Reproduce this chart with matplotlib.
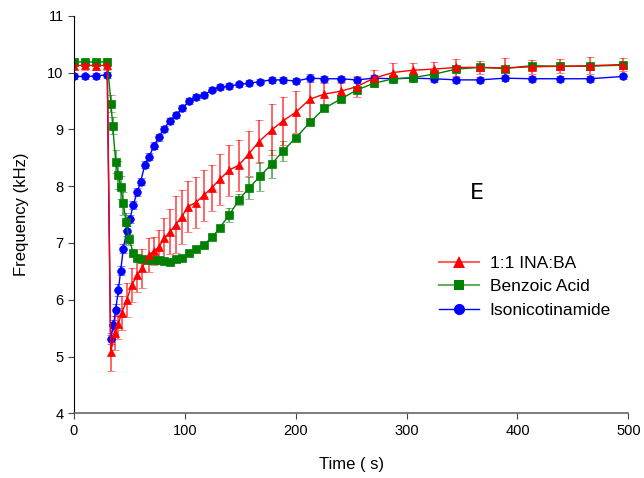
import matplotlib
matplotlib.use("Agg")
import matplotlib.pyplot as plt
from matplotlib.lines import Line2D
from matplotlib.colors import to_rgba
import numpy as np

# 1:1 INA:BA
t_red = [0, 10, 20, 30,
         33.1, 37, 40, 43, 47.5, 52, 57.1, 61, 67.9, 72.4,
         76.6, 81.4, 86.6, 91.7, 97.1, 103, 109.7, 117.2, 124.2, 131.6,
         139.8, 148.8, 157.8, 166.8, 178.3, 188.7, 200, 212.8, 225.7, 240.5,
         254.9, 270.5, 288, 305.4, 324.6, 345, 366, 388.4, 412.7, 438.2,
         465.3, 494.8]
f_red = [10.12, 10.13, 10.12, 10.13,
         5.08, 5.41, 5.58, 5.76, 5.99, 6.26, 6.43, 6.55, 6.79, 6.86,
         6.93, 7.08, 7.20, 7.32, 7.46, 7.64, 7.71, 7.84, 7.97, 8.12,
         8.28, 8.37, 8.57, 8.78, 8.99, 9.15, 9.30, 9.53, 9.62, 9.67,
         9.75, 9.90, 10.00, 10.04, 10.06, 10.09, 10.09, 10.08, 10.10, 10.11,
         10.12, 10.14]
e_red = [0.12, 0.08, 0.08, 0.08,
         0.33, 0.3, 0.28, 0.3, 0.3, 0.3, 0.3, 0.35, 0.3, 0.25,
         0.3, 0.35, 0.4, 0.5, 0.48, 0.45, 0.45, 0.45, 0.4, 0.45,
         0.45, 0.45, 0.4, 0.38, 0.45, 0.42, 0.37, 0.4, 0.2, 0.15,
         0.18, 0.15, 0.17, 0.13, 0.13, 0.15, 0.12, 0.18, 0.12, 0.12,
         0.15, 0.12]

# Benzoic Acid
t_green = [0, 10, 20, 30,
           33.4, 34.9, 37.6, 40, 42.1, 44.5, 46.9, 49.9, 53.5, 56.5,
           61, 66.1, 71.5, 76.6, 81.4, 86.6, 91.7, 97.7, 103.7, 110,
           117.2, 124.7, 131.6, 140, 148.8, 158, 167.7, 178.3, 188.7, 200,
           212.8, 225.7, 240.5, 254.9, 270.5, 288, 305.4, 324.6, 345, 366,
           388.4, 412.7, 438.2, 465.3, 494.8]
f_green = [10.18, 10.19, 10.18, 10.19,
           9.45, 9.06, 8.43, 8.20, 7.98, 7.70, 7.37, 7.06, 6.82, 6.74,
           6.71, 6.70, 6.70, 6.70, 6.69, 6.67, 6.71, 6.74, 6.82, 6.90,
           6.97, 7.10, 7.27, 7.49, 7.76, 7.97, 8.17, 8.39, 8.62, 8.85,
           9.12, 9.37, 9.53, 9.69, 9.81, 9.89, 9.91, 9.97, 10.06, 10.09,
           10.07, 10.12, 10.11, 10.11, 10.13]
e_green = [0.06, 0.05, 0.05, 0.06,
           0.15, 0.15, 0.2, 0.25, 0.2, 0.2, 0.15, 0.1, 0.05, 0.05,
           0.04, 0.04, 0.04, 0.04, 0.04, 0.04, 0.04, 0.04, 0.04, 0.04,
           0.04, 0.04, 0.04, 0.12, 0.1, 0.19, 0.25, 0.25, 0.18, 0.05,
           0.05, 0.05, 0.05, 0.05, 0.04, 0.04, 0.04, 0.04, 0.04, 0.04,
           0.04, 0.04, 0.04, 0.04, 0.04]

# Isonicotinamide
t_blue = [0, 10, 20, 30,
          33, 35.5, 37.6, 40, 42.1, 44.5, 47.5, 50.5, 53.5, 57.1,
          60.1, 64, 67.9, 72.1, 76.6, 81.2, 86.6, 91.7, 97.7, 103.7,
          110, 117.2, 124.7, 131.6, 139.8, 148.8, 157.8, 167.7, 178.3, 188.7,
          200, 212.8, 225.7, 240.5, 254.9, 270.5, 288, 305.4, 324.6, 345,
          366, 388.4, 412.7, 438.2, 465.3, 494.8]
f_blue = [9.93, 9.93, 9.94, 9.96,
          5.30, 5.55, 5.82, 6.17, 6.51, 6.90, 7.21, 7.42, 7.67, 7.90,
          8.08, 8.38, 8.52, 8.71, 8.86, 9.01, 9.15, 9.25, 9.37, 9.50,
          9.57, 9.60, 9.70, 9.74, 9.76, 9.79, 9.81, 9.84, 9.87, 9.87,
          9.85, 9.90, 9.89, 9.89, 9.87, 9.90, 9.89, 9.90, 9.89, 9.87,
          9.87, 9.90, 9.89, 9.89, 9.89, 9.93]
e_blue = [0.05, 0.05, 0.05, 0.05,
          0.08, 0.1, 0.1, 0.1, 0.08, 0.08, 0.08, 0.07, 0.07, 0.07,
          0.06, 0.06, 0.06, 0.06, 0.06, 0.05, 0.05, 0.05, 0.05, 0.05,
          0.05, 0.05, 0.05, 0.05, 0.05, 0.05, 0.05, 0.05, 0.05, 0.05,
          0.05, 0.07, 0.05, 0.05, 0.05, 0.05, 0.05, 0.05, 0.05, 0.05,
          0.05, 0.05, 0.05, 0.05, 0.05, 0.05]

plt.rcParams["font.family"] = ["Liberation Sans", "DejaVu Sans"]

fig = plt.figure(figsize=(6.44, 4.78), dpi=100)
ax = fig.add_axes([74/644, 1-413.3/478, (628.3-74)/644, (413.3-15.7)/478])

series = [
    (t_blue, f_blue, e_blue, "#0000ff", "o", 5.5, "Isonicotinamide"),
    (t_green, f_green, e_green, "#008000", "s", 5.5, "Benzoic Acid"),
    (t_red, f_red, e_red, "#ff0000", "^", 6, "1:1 INA:BA"),
]
for t, f, e, c, m, ms, lab in series:
    ax.errorbar(t, f, yerr=e, color=c, marker=m, markersize=ms, linewidth=1,
                elinewidth=1.2, capsize=3, capthick=1.2,
                ecolor=to_rgba(c, 0.7),
                markeredgecolor=c, markeredgewidth=0.5, label=lab)

ax.set_xlim(0, 500)
ax.set_ylim(4, 11)
ax.set_xticks(np.arange(0, 501, 100))
ax.set_yticks(np.arange(4, 12, 1))
ax.spines["top"].set_visible(False)
ax.spines["right"].set_visible(False)
ax.spines["left"].set_color("black")
ax.spines["bottom"].set_color("#666666")
ax.spines["bottom"].set_linewidth(1.2)
ax.tick_params(direction="out", length=4, labelsize=10.5, color="#444444",
               labelcolor="black")
ax.set_xlabel("Time ( s)", fontsize=12, labelpad=14)
ax.set_ylabel("Frequency (kHz)", fontsize=12, labelpad=13)

fig.text(477/644, 1-193/478, "E", fontsize=16, ha="center", va="center",
         family="DejaVu Sans")

handles = [
    Line2D([], [], color="#ff6060", marker="^", markersize=8,
           markerfacecolor="#ff0000", markeredgewidth=0, linewidth=1.5),
    Line2D([], [], color="#60b060", marker="s", markersize=7,
           markerfacecolor="#008000", markeredgewidth=0, linewidth=1.5),
    Line2D([], [], color="#0000ff", marker="o", markersize=8,
           markerfacecolor="#0000ff", markeredgewidth=0, linewidth=1),
]
fig.legend(handles, ["1:1 INA:BA", "Benzoic Acid", "Isonicotinamide"],
           loc="upper left", bbox_to_anchor=(436/644, 1-252/478),
           frameon=False, fontsize=12.5, handlelength=2.3, handletextpad=0.6,
           labelspacing=0.5, borderaxespad=0, borderpad=0.2)

fig.savefig("out.png", dpi=100)
